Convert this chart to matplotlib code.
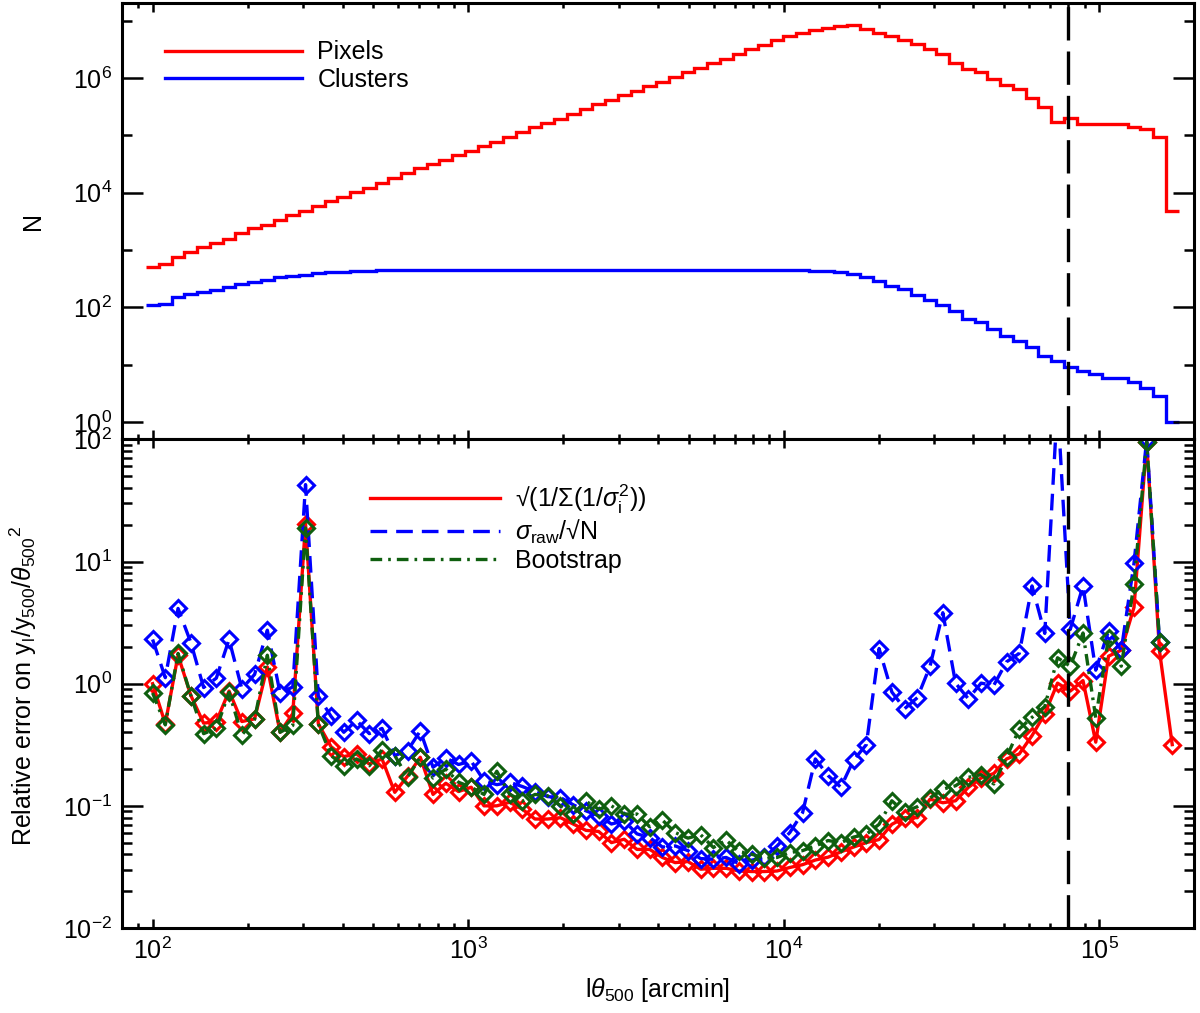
import numpy as np
import matplotlib
matplotlib.use("Agg")
import matplotlib.pyplot as plt
from matplotlib.ticker import FixedLocator, LogLocator, LogFormatterMathtext, NullFormatter
from matplotlib.lines import Line2D

plt.rcParams['font.family'] = ['Liberation Sans', 'DejaVu Sans']
plt.rcParams['mathtext.fontset'] = 'custom'
plt.rcParams['mathtext.rm'] = 'Liberation Sans'
plt.rcParams['mathtext.it'] = 'Liberation Sans:italic'
plt.rcParams['mathtext.bf'] = 'Liberation Sans:bold'

# bin centres (l*theta500, arcmin)
theta = [100, 109.7, 120.4, 132.2, 145.1, 159.2, 174.7, 191.8, 210.5, 231.0,
         253.5, 278.2, 305.3, 335.1, 367.8, 403.6, 443.0, 486.2, 533.6, 585.6,
         642.7, 705.4, 774.2, 849.7, 932.5, 1023, 1123, 1233, 1353, 1485,
         1629, 1788, 1963, 2154, 2364, 2594, 2847, 3125, 3429, 3764,
         4130, 4533, 4975, 5460, 5993, 6577, 7218, 7922, 8694, 9541,
         10470, 11490, 12610, 13840, 15190, 16670, 18300, 20080, 22040, 24190,
         26550, 29130, 31980, 35090, 38510, 42270, 46390, 50910, 55870, 61320,
         67300, 73860, 81060, 88960, 97630, 107200, 117600, 129100, 141600, 155500,
         170600]

# top panel: number of pixels / clusters per bin
n_pixels = [511, 569, 763, 933, 1110, 1300, 1530, 2000, 2380, 2720,
            3320, 4060, 4830, 5820, 7110, 8470, 1.01e4, 1.23e4, 1.45e4, 1.77e4,
            2.16e4, 2.64e4, 3.14e4, 3.78e4, 4.5e4, 5.36e4, 6.46e4, 7.69e4, 9.4e4, 1.15e5,
            1.37e5, 1.65e5, 1.96e5, 2.4e5, 2.89e5, 3.49e5, 4.2e5, 5.0e5, 5.94e5, 7.2e5,
            8.5e5, 1.04e6, 1.27e6, 1.52e6, 1.83e6, 2.18e6, 2.66e6, 3.25e6, 3.82e6, 4.54e6,
            5.33e6, 6.1e6, 6.78e6, 7.55e6, 7.96e6, 8.28e6, 7.25e6, 6.18e6, 5.33e6, 4.54e6,
            3.87e6, 3.25e6, 2.66e6, 1.85e6, 1.46e6, 1.27e6, 9.5e5, 7.5e5, 6.3e5, 4.5e5,
            3.13e5, 1.72e5, 2.04e5, 1.56e5, 1.6e5, 1.56e5, 1.56e5, 1.37e5, 1.31e5, 9.4e4,
            4.8e3]
n_clusters = [111, 114, 153, 171, 182, 201, 229, 255, 273, 299,
              333, 352, 371, 391, 407, 418, 424, 436, 441, 444,
              447, 448, 448, 449, 449, 449, 449, 449, 449, 449,
              449, 449, 449, 449, 449, 449, 449, 449, 449, 449,
              449, 449, 449, 449, 449, 448, 448, 448, 447, 447,
              446, 443, 436, 424, 407, 381, 342, 291, 239, 209,
              167, 134, 111, 85.3, 62.7, 54.8, 42.0, 32.2, 26.3, 20.2,
              14.4, 11.8, 9.0, 7.9, 6.9, 5.9, 5.9, 4.95, 3.94, 2.9,
              1.0]

# bottom panel: relative errors
err_analytic = [1.0, 0.47, 1.71, 0.80, 0.475, 0.49, 0.87, 0.49, 0.515, 1.37,
                0.40, 0.57, 20.4, 0.47, 0.305, 0.253, 0.266, 0.22, 0.242, 0.129,
                0.175, 0.25, 0.124, 0.153, 0.131, 0.142, 0.100, 0.100, 0.107, 0.094,
                0.078, 0.078, 0.080, 0.071, 0.063, 0.0617, 0.050, 0.0533, 0.044, 0.044,
                0.0378, 0.0343, 0.035, 0.0303, 0.0308, 0.0308, 0.0293, 0.029, 0.029, 0.0293,
                0.0313, 0.033, 0.036, 0.038, 0.042, 0.046, 0.050, 0.053, 0.0706, 0.080,
                0.080, 0.1135, 0.106, 0.110, 0.1416, 0.169, 0.184, 0.242, 0.266, 0.376,
                0.566, 1.01, 0.87, 1.06, 0.332, 1.68, 1.88, 4.22, 95, 1.85,
                0.317]
err_raw = [2.30, 1.12, 4.13, 2.17, 0.93, 1.11, 2.30, 0.91, 1.19, 2.74,
           0.84, 0.94, 42.6, 0.79, 0.54, 0.40, 0.50, 0.39, 0.43, 0.258,
           0.283, 0.41, 0.207, 0.247, 0.218, 0.232, 0.161, 0.149, 0.156, 0.144,
           0.131, 0.119, 0.117, 0.102, 0.091, 0.083, 0.071, 0.0755, 0.059, 0.055,
           0.046, 0.047, 0.043, 0.037, 0.0366, 0.0378, 0.0337, 0.0359, 0.0378, 0.047,
           0.0605, 0.088, 0.242, 0.177, 0.142, 0.237, 0.317, 1.94, 0.855, 0.624,
           0.768, 1.39, 3.81, 1.01, 0.753, 1.01, 0.97, 1.51, 1.77, 6.31,
           2.58, 200, 2.78, 6.31, 1.29, 2.71, 1.88, 9.7, 100, 2.2]
err_boot = [0.84, 0.46, 1.77, 0.80, 0.39, 0.43, 0.85, 0.38, 0.51, 1.71,
            0.40, 0.455, 18.8, 0.47, 0.258, 0.213, 0.242, 0.213, 0.287, 0.258,
            0.171, 0.25, 0.169, 0.20, 0.156, 0.142, 0.124, 0.192, 0.125, 0.109,
            0.124, 0.121, 0.100, 0.0857, 0.109, 0.094, 0.100, 0.0857, 0.0857, 0.0674,
            0.0764, 0.0605, 0.0544, 0.058, 0.0456, 0.0524, 0.0423, 0.0402, 0.0372, 0.0378,
            0.0415, 0.043, 0.047, 0.052, 0.050, 0.0555, 0.0585, 0.0706, 0.110, 0.089,
            0.0985, 0.116, 0.137, 0.146, 0.171, 0.18, 0.151, 0.25, 0.426, 0.53,
            0.65, 1.63, 1.39, 2.6, 0.525, 2.38, 1.39, 6.54, 95, 2.2]

theta_cut = 8e4

RED = '#ff0000'
BLUE = '#0000ff'
GREEN = '#0f5f0f'
FS = 18
LW = 2.4

fig = plt.figure(figsize=(12, 10.13), dpi=100)
ax_top = fig.add_axes([0.1017, 0.5663, 0.8933, 0.4304])
ax_bot = fig.add_axes([0.1017, 0.0839, 0.8933, 0.4824], sharex=ax_top)

# histogram edges halfway (in log) between the bin centres
lt = np.log10(theta)
mids = (lt[:-1] + lt[1:]) / 2
edges = 10 ** np.concatenate([[2 * lt[0] - mids[0]], mids, [2 * lt[-1] - mids[-1]]])

ax_top.stairs(n_pixels, edges, baseline=None, color=RED, lw=LW)
ax_top.stairs(n_clusters, edges, baseline=None, color=BLUE, lw=LW)
ax_top.set_yscale('log')
ax_top.set_xscale('log')
ax_top.set_ylim(0.5, 2e7)
ax_top.yaxis.set_major_locator(FixedLocator([1, 1e2, 1e4, 1e6]))
ax_top.yaxis.set_minor_locator(FixedLocator([10, 1e3, 1e5, 1e7]))
ax_top.yaxis.set_major_formatter(LogFormatterMathtext())
ax_top.yaxis.set_minor_formatter(NullFormatter())
ax_top.axvline(theta_cut, color='k', lw=LW, dashes=(10, 3.3))
h_top = [Line2D([], [], color=RED, lw=LW), Line2D([], [], color=BLUE, lw=LW)]
ax_top.legend(h_top, ['Pixels', 'Clusters'], loc='upper left', bbox_to_anchor=(0.04, 0.915),
              frameon=False, fontsize=FS, handlelength=5.5, handletextpad=0.6,
              labelspacing=0.15, borderpad=0, borderaxespad=0)

mk = dict(marker='D', markersize=8, markerfacecolor='none', markeredgewidth=2.2)
ax_bot.plot(theta, err_analytic, color=RED, lw=LW, ls='-', **mk)
ax_bot.plot(theta[:len(err_raw)], err_raw, color=BLUE, lw=LW, dashes=(5, 2.7), **mk)
ax_bot.plot(theta[:len(err_boot)], err_boot, color=GREEN, lw=LW, dashes=(3.5, 1.8, 0.8, 1.8), **mk)
ax_bot.axvline(theta_cut, color='k', lw=LW, dashes=(10, 3.3))
ax_bot.set_yscale('log')
ax_bot.set_ylim(0.01, 100)
ax_bot.set_xlim(80, 2e5)
ax_bot.yaxis.set_major_locator(LogLocator(base=10))
ax_bot.yaxis.set_minor_locator(LogLocator(base=10, subs=np.arange(2, 10)))
ax_bot.yaxis.set_minor_formatter(NullFormatter())
ax_bot.xaxis.set_major_locator(LogLocator(base=10))
ax_bot.xaxis.set_minor_locator(LogLocator(base=10, subs=np.arange(2, 10)))
ax_bot.xaxis.set_minor_formatter(NullFormatter())

h_bot = [Line2D([], [], color=RED, lw=LW),
         Line2D([], [], color=BLUE, lw=LW, dashes=(5, 2.7)),
         Line2D([], [], color=GREEN, lw=LW, dashes=(3.5, 1.8, 0.8, 1.8))]
lab_bot = ['√(1/Σ(1/$\\sigma_{\\rm i}^2$))', '$\\sigma_{\\rm raw}$/√N', 'Bootstrap']
ax_bot.legend(h_bot, lab_bot, loc='upper left', bbox_to_anchor=(0.231, 0.912),
              frameon=False, fontsize=FS, handlelength=5.2, handletextpad=0.6,
              labelspacing=0.1, borderpad=0, borderaxespad=0)

for ax in (ax_top, ax_bot):
    for s in ax.spines.values():
        s.set_linewidth(2.2)
    ax.tick_params(which='both', direction='in', top=True, right=True, width=1.8,
                   labelsize=FS, pad=7)
    ax.tick_params(axis='y', which='major', length=15)
    ax.tick_params(axis='y', which='minor', length=7.5)
    ax.tick_params(axis='x', which='major', length=6.5)
    ax.tick_params(axis='x', which='minor', length=3.6)
ax_top.tick_params(axis='x', labelbottom=False)

fig.text(0.0275, 0.782, 'N', rotation=90, ha='center', va='center', fontsize=FS)
fig.text(0.0196, 0.323, 'Relative error on y$_{\\rm l}$/y$_{500}$/$\\theta_{500}$$^{2}$',
         rotation=90, ha='center', va='center', fontsize=FS)
fig.text(0.548, 0.0227, 'l$\\theta_{500}$ [arcmin]', ha='center', va='center', fontsize=FS)

fig.savefig('out.png', dpi=100)
